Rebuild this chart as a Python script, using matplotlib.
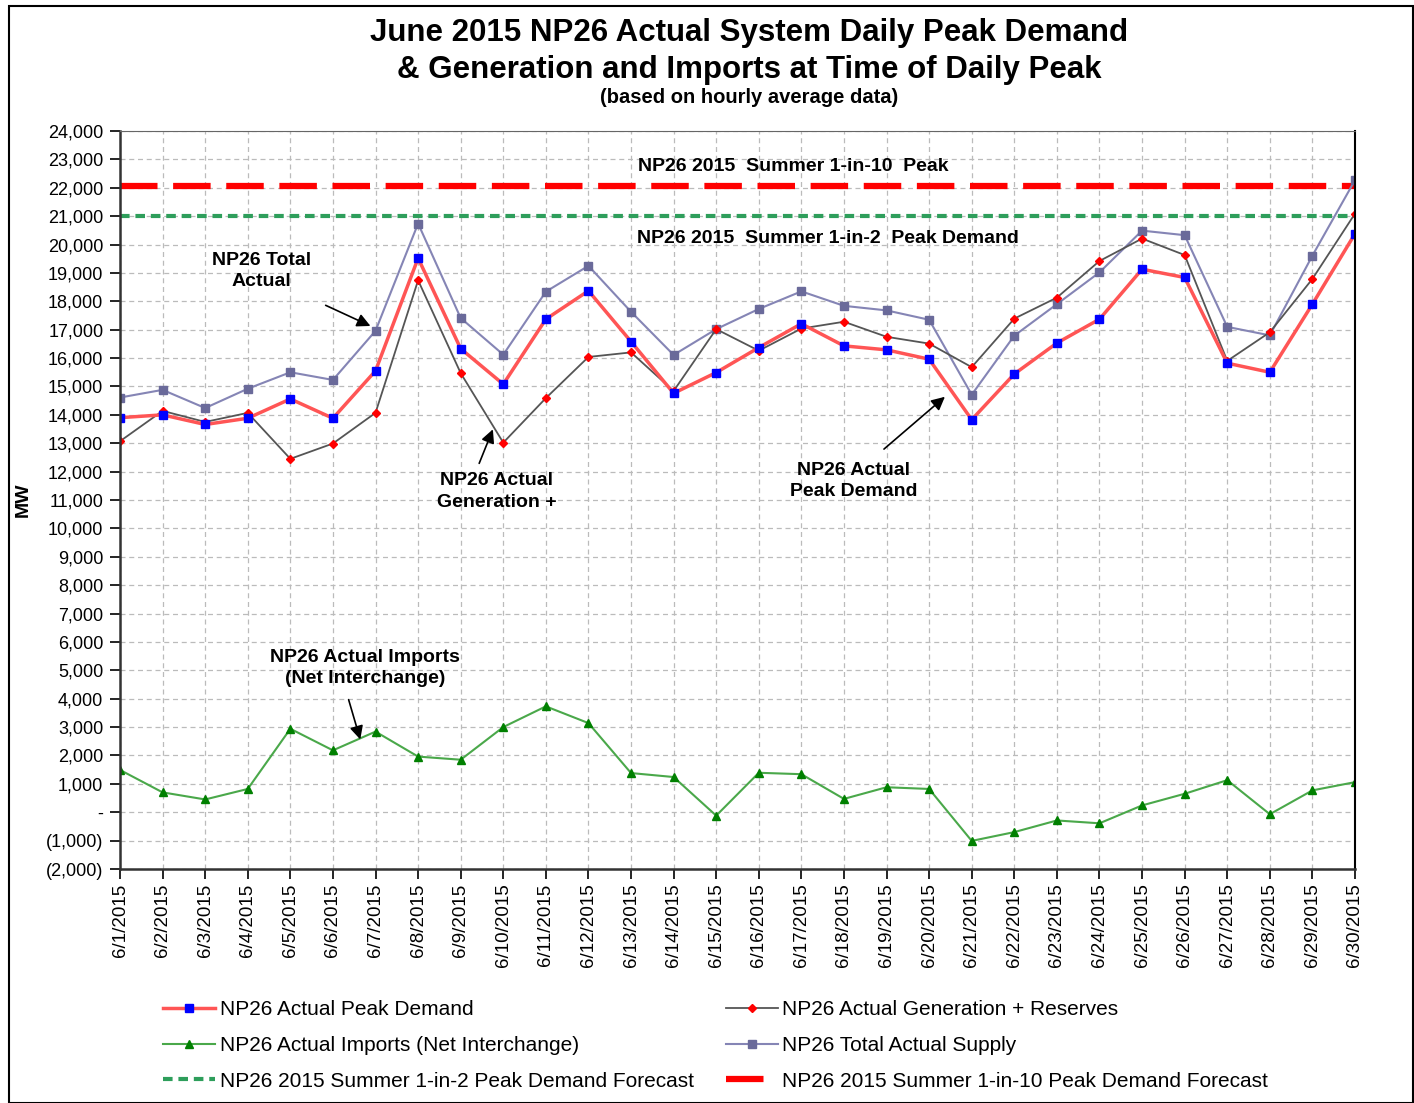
import numpy as np
import matplotlib.pyplot as plt
from matplotlib.patches import Rectangle
from matplotlib.ticker import FuncFormatter

plt.rcParams['font.family'] = ['Liberation Sans', 'DejaVu Sans']

dates = ["6/%d/2015" % d for d in range(1, 31)]

peak_demand = [13900, 14000, 13660, 13880, 14560, 13880, 15550, 19520, 16330, 15080,
               17370, 18370, 16580, 14760, 15490, 16370, 17210, 16430, 16290, 15960,
               13830, 15440, 16530, 17370, 19130, 18840, 15820, 15500, 17900, 20380]
gen_reserves = [13070, 14140, 13750, 14070, 12450, 12990, 14070, 18740, 15470, 13020,
                14590, 16040, 16200, 14840, 17020, 16260, 17040, 17280, 16750, 16510,
                15680, 17390, 18130, 19420, 20210, 19630, 15900, 16910, 18790, 21090]
imports = [1490, 700, 450, 820, 2940, 2180, 2840, 1960, 1850, 3000,
           3730, 3140, 1380, 1240, -120, 1390, 1340, 470, 880, 820,
           -1010, -700, -290, -390, 240, 650, 1130, -70, 770, 1060]
total_supply = [14610, 14880, 14240, 14920, 15500, 15230, 16960, 20740, 17410, 16120,
                18340, 19250, 17630, 16110, 17020, 17730, 18350, 17840, 17680, 17350,
                14710, 16790, 17900, 19020, 20490, 20330, 17100, 16800, 19610, 22270]
one_in_two = 21000
one_in_ten = 22050

y_ticks = list(range(-2000, 25000, 1000))


def acct(v, pos):
    if v == 0:
        return "-"
    if v < 0:
        return "({:,.0f})".format(-v)
    return "{:,.0f}".format(v)


fig = plt.figure(figsize=(14.14, 11.03), dpi=100)
fig.patches.append(Rectangle((9 / 1414, 0), 1404 / 1414, 1097 / 1103, transform=fig.transFigure,
                             fill=False, edgecolor='black', linewidth=1.5))
ax = fig.add_axes([120 / 1414, 1 - 869 / 1103, 1235 / 1414, 738 / 1103])

x = np.arange(len(dates))
n = len(dates)

h_1in2, = ax.plot(x, [one_in_two] * n, color='#2e9e5b', lw=3, dashes=(2.3, 1.4),
                  label="NP26 2015 Summer 1-in-2 Peak Demand Forecast")
h_1in10, = ax.plot(x, [one_in_ten] * n, color='#ff0000', lw=4.5, dashes=(6, 2.5),
                   label="NP26 2015 Summer 1-in-10 Peak Demand Forecast")
h_imp, = ax.plot(x, imports, color='#4aa84a', lw=1.5, marker='^', ms=6,
                 mfc='#008000', mec='#008000', label="NP26 Actual Imports (Net Interchange)")
h_sup, = ax.plot(x, total_supply, color='#8585b5', lw=1.5, marker='s', ms=5.5,
                 mfc='#6a6a9a', mec='#6a6a9a', label="NP26 Total Actual Supply")
h_gen, = ax.plot(x, gen_reserves, color='#555555', lw=1.3, marker='D', ms=4.5,
                 mfc='#ff0000', mec='#ff0000', label="NP26 Actual Generation + Reserves")
h_pk, = ax.plot(x, peak_demand, color='#ff5555', lw=2.5, marker='s', ms=5.5,
                mfc='#0000ff', mec='#0000ff', label="NP26 Actual Peak Demand")

ax.set_xlim(0, n - 1)
ax.set_ylim(-2000, 24000)
ax.set_yticks(y_ticks)
ax.yaxis.set_major_formatter(FuncFormatter(acct))
ax.set_xticks(x)
ax.set_xticklabels(dates, rotation=90, fontsize=13.5)
ax.tick_params(axis='y', labelsize=13, direction='out', length=7, width=1.2, pad=5)
ax.tick_params(axis='x', direction='out', length=7, width=1.2)
ax.grid(True, color='#bbbbbb', ls=(0, (4, 3)), lw=0.9)
ax.set_axisbelow(True)
for s in ['left', 'bottom']:
    ax.spines[s].set_linewidth(1.8)
    ax.spines[s].set_color('#333333')
ax.spines['top'].set_color('#666666')
ax.spines['right'].set_color('black')
ax.spines['right'].set_linewidth(1.5)

ax.set_ylabel("MW", fontsize=14, fontweight='bold', labelpad=10)

fig.text(0.53, 1 - 33 / 1103, "June 2015 NP26 Actual System Daily Peak Demand",
         ha='center', va='center', fontsize=22.5, fontweight='bold')
fig.text(0.53, 1 - 70 / 1103, "& Generation and Imports at Time of Daily Peak",
         ha='center', va='center', fontsize=22.5, fontweight='bold')
fig.text(0.53, 1 - 97 / 1103, "(based on hourly average data)",
         ha='center', va='center', fontsize=14.5, fontweight='bold')

tkw = dict(ha='center', va='center', fontsize=14, fontweight='bold', linespacing=1.35)
akw = dict(arrowstyle='-|>', color='black', lw=1.2, mutation_scale=20)
ax.text(15.81, 22760, "NP26 2015  Summer 1-in-10  Peak", **tkw)
ax.text(16.62, 20200, "NP26 2015  Summer 1-in-2  Peak Demand", **tkw)
ax.text(3.33, 19070, "NP26 Total\nActual", **tkw)
ax.annotate("", xy=(5.94, 17090), xytext=(4.77, 17900), arrowprops=akw)
ax.text(8.85, 11290, "NP26 Actual\nGeneration +", **tkw)
ax.annotate("", xy=(8.78, 13580), xytext=(8.41, 12200), arrowprops=akw)
ax.text(17.23, 11670, "NP26 Actual\nPeak Demand", **tkw)
ax.annotate("", xy=(19.42, 14700), xytext=(17.89, 12730), arrowprops=akw)
ax.text(5.75, 5080, "NP26 Actual Imports\n(Net Interchange)", **tkw)
ax.annotate("", xy=(5.66, 2470), xytext=(5.35, 4060), arrowprops=akw)

handles = [h_pk, h_imp, h_1in2, h_gen, h_sup, h_1in10]
fig.legend(handles=handles, labels=[h.get_label() for h in handles], ncol=2,
           loc='upper left', bbox_to_anchor=(155 / 1414, 1 - 992 / 1103),
           frameon=False, fontsize=15, handlelength=2.5, handletextpad=0.2,
           columnspacing=1.55, labelspacing=0.8, borderaxespad=0)

fig.savefig("out.png", dpi=100)
